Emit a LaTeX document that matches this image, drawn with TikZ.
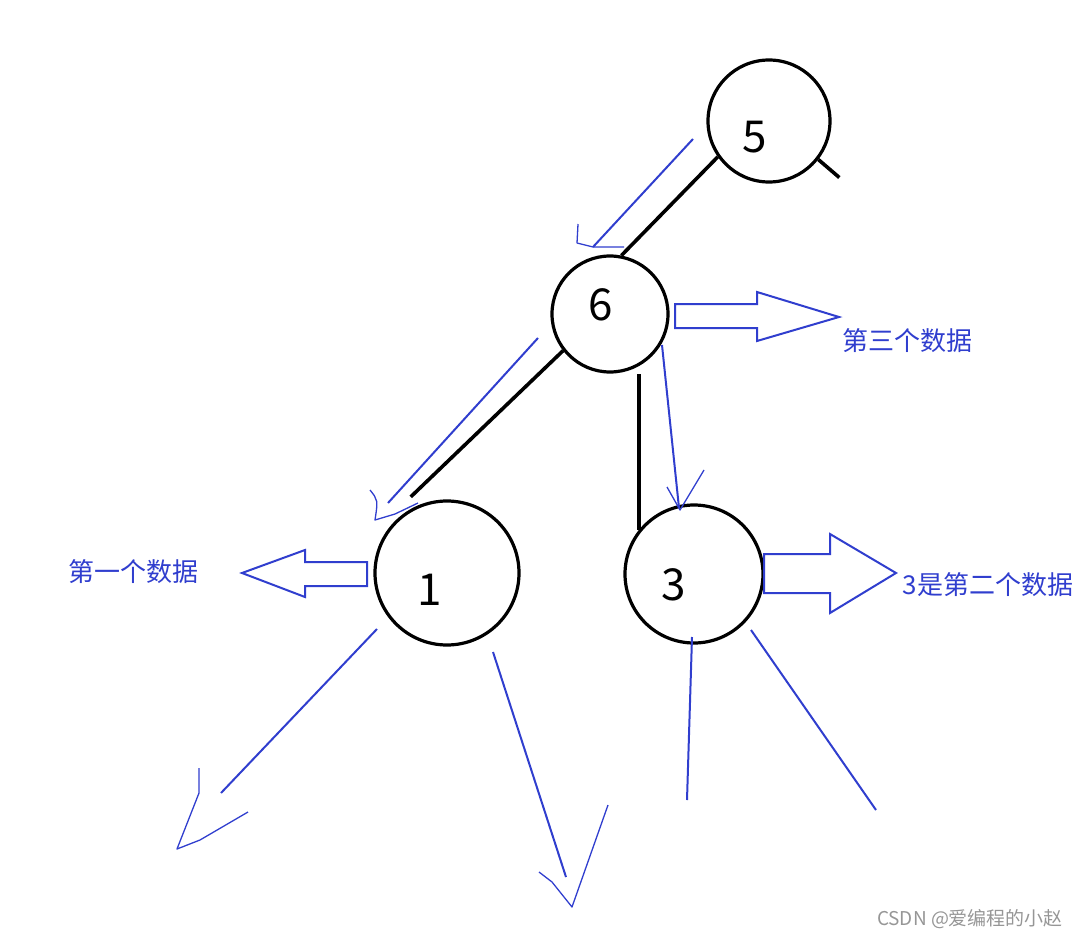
\documentclass[tikz,border=0pt]{standalone}
\usepackage{fontspec}
\usepackage{tikz}
\usetikzlibrary{calc}
\newfontfamily\cjk{Noto Sans CJK SC}
\definecolor{penblue}{RGB}{48,62,206}
\definecolor{markgray}{RGB}{150,150,150}

\begin{document}
\begin{tikzpicture}[x=1pt, y=-1pt,
    treenode/.style={circle, draw=black, line width=3.2pt, inner sep=0pt},
    digit/.style={font=\cjk\fontsize{44}{48}\selectfont},
    treeedge/.style={black, line width=3.6pt},
    stroke/.style={penblue, line width=2pt},
    hook/.style={penblue, line width=1.3pt, line join=round},
    hollow/.style={penblue, line width=2pt, fill=white},
    note/.style={penblue, font=\cjk\fontsize{26}{29}\selectfont}]
  \useasboundingbox (0,0) rectangle (1081,939);
  % Tree nodes
  \node[treenode, minimum size=122pt] (n5) at (769,121) {};
  \node[treenode, minimum size=116pt] (n6) at (610,314) {};
  \node[treenode, minimum size=144pt] (n1) at (447,573) {};
  \node[treenode, minimum size=138pt] (n3) at (694,574) {};
  \node[digit] (t5) at (755,137) {5};
  \node[digit] (t6) at (601,305) {6};
  \node[digit] (t1) at (430,590) {1};
  \node[digit] (t3) at (674,585) {3};
  % Black edges
  \draw[treeedge] (n5.215) -- (n6.79);
  \draw[treeedge] (n5.322) -- ++(21,18);
  \draw[treeedge] (n6.218) -- ($(n1.116)+(-4,-10)$);
  \draw[treeedge] (n3.141) -- (n3.141 |- n6.south);
  % Blue pen strokes along the edges
  \draw[stroke] (693,139) -- (593,247);
  \draw[hook] (578,224) -- (577,243) -- (593,247) -- (624,247);
  \draw[stroke] (538,338) -- (388,503);
  \draw[hook] (370,490) .. controls (378,500) .. (375,520) -- (395,514) -- (418,503);
  \draw[stroke] (662,345) -- (679,508);
  \draw[hook] (667,487) -- (680,510) -- (704,470);
  % Blue pen strokes below 1 and 3
  \draw[stroke] (377,629) -- (221,793);
  \draw[hook] (199,768) -- (199,793) -- (177,849) -- (200,840) -- (248,812);
  \draw[stroke] (493,652) -- (566,877);
  \draw[hook] (539,872) -- (552,882) -- (572,907) -- (608,805);
  \draw[stroke] (692,637) -- (687,800);
  \draw[stroke] (751,630) -- (876,810);
  % Hollow arrows
  \draw[hollow] (675,304) -- (757,304) -- (757,292) -- (839,317)
    -- (757,341) -- (757,328) -- (675,328) -- cycle;
  \draw[hollow] (367,562) -- (305,562) -- (305,550) -- (242,573)
    -- (305,597) -- (305,586) -- (367,586) -- cycle;
  \draw[hollow] (764,554) -- (830,554) -- (830,534) -- (896,573)
    -- (830,613) -- (830,593) -- (764,593) -- cycle;
  % Notes
  \node[note] (lbl3) at (907,341) {第三个数据};
  \node[note] (lbl1) at (133,572) {第一个数据};
  \node[note] (lbl2) at (988,585) {3是第二个数据};
  % Watermark
  \node[markgray, font=\cjk\fontsize{19}{22}\selectfont] (mark) at (970,919) {CSDN @爱编程的小赵};
\end{tikzpicture}
\end{document}
